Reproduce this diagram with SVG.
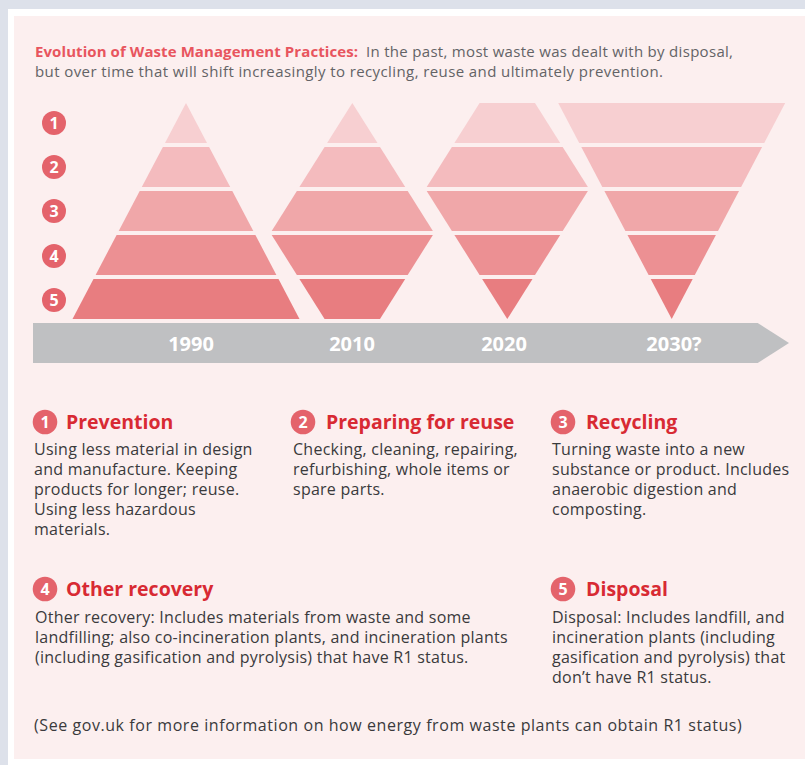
<svg xmlns="http://www.w3.org/2000/svg" width="805" height="765" viewBox="0 0 805 765">
<style>
text{font-family:"Open Sans","Liberation Sans",sans-serif}
.t{font-size:15px;fill:#636366}
.tb{font-size:15px;font-weight:700;fill:#e8555e}
.b{font-size:16px;letter-spacing:0.25px;fill:#3a3a3c}
.h{font-size:19.5px;font-weight:700;fill:#d82a33}
.cn{font-size:16px;font-weight:700;fill:#fff;text-anchor:middle}
.yr{font-size:20px;font-weight:700;fill:#fff;text-anchor:middle}
.c{fill:#e4636b}
.b1{fill:#f7cfd1}.b2{fill:#f4bbbe}.b3{fill:#f0a7a9}.b4{fill:#ec9093}.b5{fill:#e87d80}
</style>
<rect width="805" height="765" fill="#dde1ea"/>
<rect x="8" y="9" width="797" height="756" fill="#ffffff"/>
<rect x="14" y="16" width="791" height="743" fill="#fcefef"/>

<g id="title">
<text class="tb" x="35" y="57" textLength="323" lengthAdjust="spacing">Evolution of Waste Management Practices:</text>
<text class="t" x="366" y="57" textLength="367" lengthAdjust="spacing">In the past, most waste was dealt with by disposal,</text>
<text class="t" x="35" y="77" textLength="628" lengthAdjust="spacing">but over time that will shift increasingly to recycling, reuse and ultimately prevention.</text>
</g>

<g id="levels">
<circle class="c" cx="54" cy="123" r="12"/><text class="cn" x="54" y="128.7">1</text>
<circle class="c" cx="54" cy="167" r="12"/><text class="cn" x="54" y="172.7">2</text>
<circle class="c" cx="54" cy="211" r="12"/><text class="cn" x="54" y="216.7">3</text>
<circle class="c" cx="54" cy="256" r="12"/><text class="cn" x="54" y="261.7">4</text>
<circle class="c" cx="54" cy="300" r="12"/><text class="cn" x="54" y="305.7">5</text>
</g>

<g id="timeline">
<polygon points="33,323 757.7,323 789,343 757.7,363 33,363" fill="#bfc0c2"/>
<text class="yr" x="191" y="351">1990</text>
<text class="yr" x="352" y="351">2010</text>
<text class="yr" x="504" y="351">2020</text>
<text class="yr" x="674" y="351">2030?</text>
</g>

<g id="pyramid-1990">
<polygon class="b1" points="186,103 207,143 165,143"/>
<polygon class="b2" points="162.9,147 209.1,147 230.2,187 141.8,187"/>
<polygon class="b3" points="139.7,191 232.3,191 253.3,231 118.7,231"/>
<polygon class="b4" points="116.6,235 255.4,235 276.4,275 95.6,275"/>
<polygon class="b5" points="93.5,279 278.5,279 299.5,319 72.5,319"/>
</g>

<g id="pyramid-2010">
<polygon class="b1" points="352.3,103 377.5,143 327.1,143"/>
<polygon class="b2" points="324.6,147 380,147 405.2,187 299.4,187"/>
<polygon class="b3" points="296.9,191 407.7,191 432.9,231 271.7,231"/>
<polygon class="b4" points="271.7,235 432.9,235 407.7,275 296.9,275"/>
<polygon class="b5" points="299.4,279 405.2,279 380,319 324.6,319"/>
</g>

<g id="pyramid-2020">
<polygon class="b1" points="479.6,103 535,103 560.2,143 454.4,143"/>
<polygon class="b2" points="451.9,147 562.7,147 587.9,187 426.7,187"/>
<polygon class="b3" points="426.7,191 587.9,191 562.7,231 451.9,231"/>
<polygon class="b4" points="454.4,235 560.2,235 535,275 479.6,275"/>
<polygon class="b5" points="482.1,279 532.5,279 507.3,319"/>
</g>

<g id="pyramid-2030">
<polygon class="b1" points="558.2,103 785.2,103 764.2,143 579.2,143"/>
<polygon class="b2" points="581.3,147 762.1,147 741.1,187 602.3,187"/>
<polygon class="b3" points="604.4,191 739,191 718,231 625.4,231"/>
<polygon class="b4" points="627.5,235 715.9,235 694.8,275 648.6,275"/>
<polygon class="b5" points="650.7,279 692.7,279 671.7,319"/>
</g>

<g id="prevention">
<circle class="c" cx="45" cy="422" r="12.3"/><text class="cn" x="45" y="427.7">1</text>
<text class="h" x="66" y="429">Prevention</text>
<text class="b" x="34" y="455">Using less material in design</text>
<text class="b" x="34" y="475">and manufacture. Keeping</text>
<text class="b" x="34" y="495">products for longer; reuse.</text>
<text class="b" x="34" y="515">Using less hazardous</text>
<text class="b" x="34" y="535">materials.</text>
</g>

<g id="preparing-for-reuse">
<circle class="c" cx="303" cy="422" r="12.3"/><text class="cn" x="303" y="427.7">2</text>
<text class="h" x="326" y="429">Preparing for reuse</text>
<text class="b" x="293" y="455">Checking, cleaning, repairing,</text>
<text class="b" x="293" y="475">refurbishing, whole items or</text>
<text class="b" x="293" y="495">spare parts.</text>
</g>

<g id="recycling">
<circle class="c" cx="563" cy="422" r="12.3"/><text class="cn" x="563" y="427.7">3</text>
<text class="h" x="586" y="429">Recycling</text>
<text class="b" x="552" y="455">Turning waste into a new</text>
<text class="b" x="552" y="475">substance or product. Includes</text>
<text class="b" x="552" y="495">anaerobic digestion and</text>
<text class="b" x="552" y="515">composting.</text>
</g>

<g id="other-recovery">
<circle class="c" cx="45" cy="589" r="12.3"/><text class="cn" x="45" y="594.7">4</text>
<text class="h" x="66" y="596">Other recovery</text>
<text class="b" x="35" y="623">Other recovery: Includes materials from waste and some</text>
<text class="b" x="35" y="643">landfilling; also co-incineration plants, and incineration plants</text>
<text class="b" x="35" y="663">(including gasification and pyrolysis) that have R1 status.</text>
</g>

<g id="disposal">
<circle class="c" cx="563" cy="589" r="12.3"/><text class="cn" x="563" y="594.7">5</text>
<text class="h" x="586" y="596">Disposal</text>
<text class="b" x="552" y="623">Disposal: Includes landfill, and</text>
<text class="b" x="552" y="643">incineration plants (including</text>
<text class="b" x="552" y="663">gasification and pyrolysis) that</text>
<text class="b" x="552" y="683">don’t have R1 status.</text>
</g>

<g id="footnote">
<text class="b" x="34" y="731" textLength="708" lengthAdjust="spacing">(See gov.uk for more information on how energy from waste plants can obtain R1 status)</text>
</g>
</svg>
